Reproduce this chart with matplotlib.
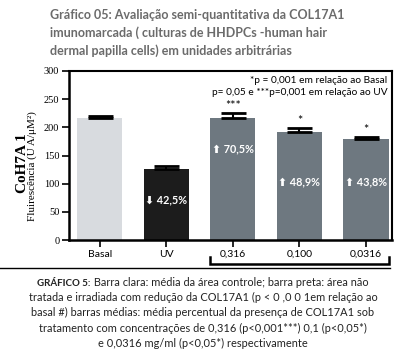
import matplotlib
matplotlib.use("Agg")
import matplotlib.pyplot as plt
from matplotlib.offsetbox import TextArea, HPacker, AnchoredOffsetbox
import matplotlib.transforms as mtransforms

categories = ["Basal", "UV", "0,316", "0,100", "0,0316"]
values = [217, 126, 217, 192, 179]
errors = [3, 5, 8, 6, 3]
stars = ["", "", "***", "*", "*"]
pct_labels = ["", "\u2b07 42,5%", "\u2b06 70,5%", "\u2b06 48,9%", "\u2b06 43,8%"]
pct_y = [0, 72, 162, 103, 103]
colors = ["#d8dbdf", "#1c1c1c", "#6e7880", "#6e7880", "#6e7880"]
yticks = [0, 50, 100, 150, 200, 250, 300]

SANS = ["Lato", "DejaVu Sans"]
SERIF = ["Liberation Serif", "DejaVu Serif"]

fig = plt.figure(figsize=(4.06, 3.54), dpi=100)
ax = fig.add_axes([69/406, 1-240/354, 323/406, 169/354])

x = list(range(len(categories)))
w = 0.68
ax.bar(x, values, width=w, color=colors, zorder=2)
ax.errorbar(x, values, yerr=[[0]*len(errors), errors], fmt="none",
            ecolor="black", elinewidth=1.5, capsize=9, capthick=2, zorder=3)

ax.set_xlim(-0.46, 4.39)
ax.set_ylim(0, 300)
ax.set_yticks(yticks)
ax.set_yticklabels([str(t) for t in yticks], family=SERIF, fontsize=7.5)
ax.set_xticks(x)
ax.set_xticklabels(categories, family=SANS, fontsize=7.5)
ax.tick_params(axis="both", direction="out", length=5, width=1.2, pad=2)
for s in ax.spines.values():
    s.set_linewidth(1.5)
ax.spines["left"].set_linewidth(1.8)
ax.spines["bottom"].set_linewidth(1.8)

for i in x:
    if stars[i]:
        ax.text(i, values[i] + errors[i] + 3, stars[i], ha="center", va="bottom",
                family=SANS, fontsize=9)
    if pct_labels[i]:
        ax.text(i, pct_y[i], pct_labels[i], ha="center", va="center", color="white",
                family=SANS, fontsize=7.8, fontweight="bold")

ax.text(0.985, 0.945, "*p = 0,001 em relação ao Basal", transform=ax.transAxes,
        ha="right", va="center", family=SANS, fontsize=7.3)
ax.text(0.985, 0.875, "p= 0,05 e ***p=0,001 em relação ao UV", transform=ax.transAxes,
        ha="right", va="center", family=SANS, fontsize=7.3)

# y labels
fig.text(22/406, 1-163/354, "CoH7A 1", rotation=90, ha="center", va="center",
         family=SERIF, fontsize=11, fontweight="bold")
fig.text(32/406, 1-166/354, "Fluirescência (U A/\u03bcM\u00b2)", rotation=90,
         ha="center", va="center", family=SERIF, fontsize=8)

# bracket under treated groups
trans = mtransforms.blended_transform_factory(ax.transData, fig.transFigure)
xl, xr = 2 - w/2, 4 + w/2
yb, yt = 1-264/354, 1-257/354
ax.plot([xl, xl, xr, xr], [yt, yb, yb, yt], transform=trans, color="black",
        lw=1.8, clip_on=False, solid_joinstyle="miter")

# separator line
fig.add_artist(plt.Line2D([0, 390/406], [1-268/354, 1-268/354], color="black", lw=1.0,
                          transform=fig.transFigure))

# title
title_lines = ["Gráfico 05: Avaliação semi-quantitativa da COL17A1",
               "imunomarcada ( culturas de HHDPCs -human hair",
               "dermal papilla cells) em unidades arbitrárias"]
for k, line in enumerate(title_lines):
    fig.text(50/406, 1-(15+18*k)/354, line, ha="left", va="center", family=SANS,
             fontsize=9, fontweight="bold", color="#6b6b6b")

# caption
cap_fs = 7.9
ta1 = TextArea("GRÁFICO 5:", textprops=dict(family=SANS, fontsize=7, fontweight="bold", color="#222222"))
ta2 = TextArea(" Barra clara: média da área controle; barra preta: área não",
               textprops=dict(family=SANS, fontsize=cap_fs, color="#222222"))
hp = HPacker(children=[ta1, ta2], align="baseline", pad=0, sep=0)
ab = AnchoredOffsetbox(loc="center", child=hp, frameon=False, pad=0, borderpad=0,
                       bbox_to_anchor=(0.5, 1-282/354), bbox_transform=fig.transFigure)
fig.add_artist(ab)
cap_lines = ["tratada e irradiada com redução da COL17A1 (p < 0 ,0 0 1em relação ao",
             "basal #) barras médias: média percentual da presença de COL17A1 sob",
             "tratamento com concentrações de 0,316 (p<0,001***) 0,1 (p<0,05*)",
             "e 0,0316 mg/ml (p<0,05*) respectivamente"]
for k, line in enumerate(cap_lines):
    fig.text(0.5, 1-(297.5+15.3*k)/354, line, ha="center", va="center", family=SANS,
             fontsize=cap_fs, color="#222222")

fig.savefig("out.png", dpi=100)
